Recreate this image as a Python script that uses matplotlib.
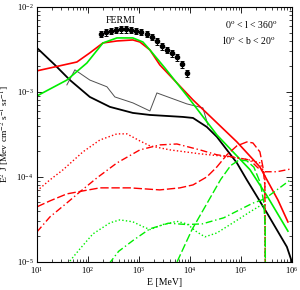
import numpy as np
import matplotlib
matplotlib.use('Agg')
import matplotlib.pyplot as plt

plt.rcParams['font.family'] = ['Liberation Serif', 'DejaVu Serif']
plt.rcParams['mathtext.fontset'] = 'stix'

# total model curves
e_black = [10, 22.5, 44.4, 109, 270, 762, 1644, 7290, 1.15e4, 2.15e4, 3.38e4, 5.31e4,
           8.35e4, 1.31e5, 2.06e5, 3.24e5, 5.08e5, 7.98e5, 1e6]
f_black = [3.30e-3, 2.08e-3, 1.38e-3, 8.73e-4, 6.67e-4, 5.66e-4, 5.36e-4, 5.08e-4, 4.94e-4,
           3.87e-4, 2.96e-4, 2.08e-4, 1.46e-4, 9.2e-5, 5.9e-5, 3.77e-5, 2.38e-5, 1.5e-5, 1.0e-5]

e_red = [10, 60.8, 109, 197, 371, 762, 1047, 1644, 2570, 1.15e4, 8.35e4, 2.36e5, 5.31e5, 8.36e5]
f_red = [1.77e-3, 2.25e-3, 2.88e-3, 3.77e-3, 3.98e-3, 4.09e-3, 3.87e-3, 3.12e-3, 2.08e-3,
         8.05e-4, 2.58e-4, 1.31e-4, 5.36e-5, 2.95e-5]

e_green = [10, 38.7, 95.5, 197, 371, 762, 1197, 1644, 3240, 9140, 3.38e4, 1.5e5, 3.24e5, 8.36e5]
f_green = [8.97e-4, 1.38e-3, 2.19e-3, 3.77e-3, 4.32e-3, 4.32e-3, 3.87e-3, 3.12e-3, 1.91e-3,
           8.73e-4, 3.12e-4, 1.22e-4, 6.0e-5, 2.3e-5]

e_gray = [38.7, 55.6, 109, 236, 338, 762, 1644, 2254, 8730, 1.8e4, 2.25e4]
f_gray = [1.21e-3, 1.82e-3, 1.38e-3, 1.15e-3, 8.73e-4, 7.43e-4, 5.97e-4, 9.73e-4, 7.23e-4,
          6.49e-4, 4.09e-4]

# FERMI data
e_fermi = [178, 224, 282, 355, 447, 562, 708, 891, 1122, 1413, 1778, 2239, 2818, 3548,
           4467, 5623, 7079, 8913]
f_fermi = [4.81e-3, 5.04e-3, 5.22e-3, 5.36e-3, 5.47e-3, 5.47e-3, 5.36e-3, 5.22e-3, 5.08e-3,
           4.81e-3, 4.44e-3, 3.93e-3, 3.43e-3, 3.12e-3, 2.85e-3, 2.56e-3, 2.12e-3, 1.66e-3]

# red components
e_rdot = [10, 18, 32.4, 79.8, 172, 371, 582, 1047, 1644, 4055, 1.57e4, 6.08e4, 1.5e5, 2.36e5, 2.95e5, 3.1e5]
f_rdot = [6.84e-5, 9.22e-5, 1.21e-4, 1.97e-4, 2.72e-4, 3.21e-4, 3.21e-4, 2.65e-4, 2.32e-4,
          2.08e-4, 1.87e-4, 1.72e-4, 1.58e-4, 1.46e-4, 1.06e-4, 1e-7]

e_rdd = [10, 18, 38.7, 69.7, 150, 371, 1047, 2570, 5560, 1.57e4, 3.38e4, 6.97e4, 1.5e5,
         2.15e5, 2.95e5, 5.08e5, 9.55e5]
f_rdd = [2.25e-5, 3.38e-5, 4.94e-5, 6.67e-5, 9.73e-5, 1.46e-4, 2.08e-4, 2.38e-4, 2.44e-4,
         2.08e-4, 1.82e-4, 1.72e-4, 1.58e-4, 1.28e-4, 1.15e-4, 1.15e-4, 1.24e-4]

e_rdash = [10, 18, 38.7, 79.8, 172, 667, 2570, 6370, 1.15e4, 2.15e4, 3.38e4, 5.31e4, 8.35e4,
           1.31e5, 1.72e5, 2.36e5, 2.7e5, 2.95e5, 3.1e5]
f_rdash = [4.44e-5, 5.22e-5, 6.31e-5, 6.84e-5, 7.43e-5, 7.43e-5, 7.03e-5, 7.43e-5, 8.05e-5,
           1.0e-4, 1.31e-4, 1.82e-4, 2.32e-4, 2.58e-4, 2.51e-4, 1.97e-4, 1.31e-4, 8.05e-5, 1e-7]

# green components
e_gdot = [40, 69.7, 125, 270, 424, 762, 1197, 1644, 2958, 5560, 8730, 1.37e4, 1.97e4,
          3.38e4, 6.97e4, 1.5e5, 2.36e5, 2.95e5, 3.1e5]
f_gdot = [9.5e-6, 1.42e-5, 2.13e-5, 2.88e-5, 3.12e-5, 2.96e-5, 2.6e-5, 2.4e-5, 2.75e-5,
          3.0e-5, 2.8e-5, 2.25e-5, 1.97e-5, 2.19e-5, 2.88e-5, 3.87e-5, 4.56e-5, 4.69e-5, 1e-7]

e_gdd = [260, 400, 780, 1644, 3800, 8730, 1.75e4, 4.6e4, 1.7e5, 2.9e5, 4.4e5, 9.5e5]
f_gdd = [9.5e-6, 1.33e-5, 1.8e-5, 2.45e-5, 2.85e-5, 2.75e-5, 2.8e-5, 3.3e-5, 4.9e-5,
         5.5e-5, 6.6e-5, 9.3e-5]

e_gdash = [5600, 1.1e4, 2.3e4, 4.0e4, 6.3e4, 9.2e4, 1.3e5, 1.8e5, 2.4e5, 2.8e5, 3.0e5, 3.1e5]
f_gdash = [1e-5, 2.4e-5, 5.2e-5, 9.3e-5, 1.36e-4, 1.58e-4, 1.55e-4, 1.3e-4, 8.5e-5,
           5.1e-5, 2.5e-5, 1e-7]

fig = plt.figure(figsize=(3.0, 2.9), dpi=100)
ax = fig.add_axes([0.123, 0.097, 0.85, 0.879])

green = '#00ee00'
ax.plot(e_black, f_black, color='black', lw=1.3)
ax.plot(e_gray, f_gray, color='#505050', lw=0.7)
ax.plot(e_red, f_red, color='red', lw=1.2)
ax.plot(e_green, f_green, color=green, lw=1.2)

ax.plot(e_rdot, f_rdot, color='red', lw=1.0, dashes=(1, 1.6))
ax.plot(e_rdd, f_rdd, color='red', lw=1.0, dashes=(5, 2, 1, 2))
ax.plot(e_rdash, f_rdash, color='red', lw=1.0, dashes=(6, 2))
ax.plot(e_gdot, f_gdot, color=green, lw=1.0, dashes=(1, 1.6))
ax.plot(e_gdd, f_gdd, color=green, lw=1.0, dashes=(5, 2, 1, 2))
ax.plot(e_gdash, f_gdash, color=green, lw=1.0, dashes=(6, 2))

ferr = np.array(f_fermi) * 0.09
ax.errorbar(e_fermi, f_fermi, yerr=ferr, fmt='o', color='black', ms=3, lw=0.7,
            capsize=1.5, capthick=0.7)

ax.set_xscale('log')
ax.set_yscale('log')
ax.set_xlim(10, 1e6)
ax.set_ylim(1e-5, 1e-2)
ax.tick_params(which='both', direction='in', top=True, right=True, labelsize=6.2)
ax.tick_params(which='major', length=4, width=0.6, pad=2.5)
ax.tick_params(which='minor', length=2, width=0.5)
for s in ax.spines.values():
    s.set_linewidth(0.8)

ax.set_xlabel('E [MeV]', fontsize=7, labelpad=1)
ax.set_ylabel(r'E$^2$ J [Mev cm$^{-2}$ s$^{-1}$ sr$^{-1}$]', fontsize=6.8)
ax.yaxis.set_label_coords(-0.098, 0.5)

ax.text(0.33, 0.948, 'FERMI', transform=ax.transAxes, fontsize=7, ha='center', va='center')
ax.text(0.84, 0.93, r'$0^{\rm o}$ < l < 360$^{\rm o}$', transform=ax.transAxes,
        fontsize=7, ha='center', va='center')
ax.text(0.83, 0.872, r'$10^{\rm o}$ < b < 20$^{\rm o}$', transform=ax.transAxes,
        fontsize=7, ha='center', va='center')

plt.savefig('out.png', dpi=100)
